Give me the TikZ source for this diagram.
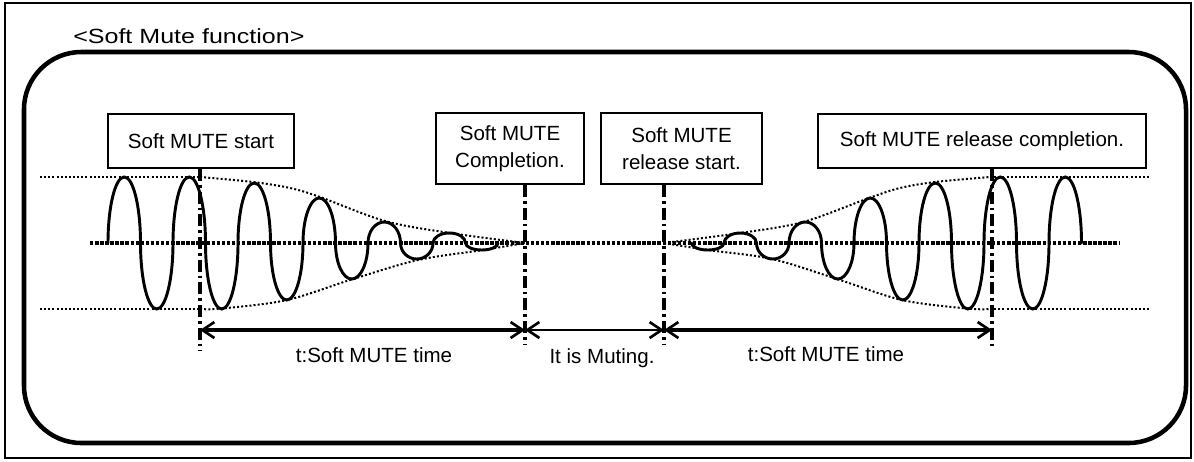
\documentclass[tikz,border=0pt]{standalone}
\usepackage{fontspec}
\setmainfont{Liberation Sans}
\usetikzlibrary{arrows.meta}
\begin{document}
\begin{tikzpicture}[x=0.75pt,y=-0.75pt,
  box/.style={draw,line width=1.5pt,inner sep=0pt,align=center,font=\fontsize{15.4pt}{20pt}\selectfont},
  lbl/.style={inner sep=0pt,font=\fontsize{15.4pt}{20pt}\selectfont},
  wave/.style={line width=2.2pt,line cap=round},
  env/.style={line width=1.5pt,dash pattern=on 1.5pt off 1.6pt},
  axisline/.style={line width=2.6pt,dash pattern=on 2.6pt off 1.2pt},
  marker/.style={line width=2.6pt,dash pattern=on 9pt off 3pt on 2pt off 3pt},
  barb/.tip={Straight Barb[length=9pt,width=12pt,line width=2pt]},
  dim/.style={line width=2.5pt,barb-barb},
  dimthin/.style={line width=1.1pt,barb-barb}]
\useasboundingbox (0,0) rectangle (1194,461);
% frames
\draw[line width=1pt] (5,3) rectangle (1191,458);
\draw[line width=3.4pt,rounded corners=43pt] (24,52) rectangle (1186,443);
% title
\node[anchor=base west,inner sep=0pt,font=\fontsize{15.4pt}{18pt}\selectfont] (title) at (73,43) {\scalebox{1.22}[1]{<Soft Mute function>}};
% boxes
\node[box,minimum width=139.5pt,minimum height=40.5pt] (b1) at (201,141) {Soft MUTE start};
\node[box,minimum width=111pt,minimum height=53.25pt] (b2) at (510,148.5) {Soft MUTE\\Completion.};
\node[box,minimum width=120.75pt,minimum height=53.25pt] (b3) at (681.5,148.5) {Soft MUTE\\release start.};
\node[box,minimum width=246pt,minimum height=40.5pt] (b4) at (982,141) {Soft MUTE release completion.};
% center axis
\coordinate (axL) at (90,243);
\coordinate (axR) at (1120,243);
\draw[axisline] (axL) -- (axR);
% envelopes
\draw[env] (40,177) -- (200,177);
\draw[env] plot[smooth,tension=0.55] coordinates {(200,177) (253,182) (290,188) (320,197) (385,221) (450,233) (525,243)};
\draw[env] (40,309) -- (200,309);
\draw[env] plot[smooth,tension=0.55] coordinates {(200,309) (222,308.5) (287,300) (353,279) (418,260) (483,250) (525,243)};
\draw[env] plot[smooth,tension=0.55] coordinates {(664,243) (740,233) (803,222) (869,198) (900,188) (935,182) (990,177)};
\draw[env] (990,177) -- (1150,177);
\draw[env] plot[smooth,tension=0.55] coordinates {(664,243) (708,250) (772,259) (837,279) (902,300) (967,308.5) (990,309)};
\draw[env] (990,309) -- (1150,309);
% waves (half-ellipse lobes)
\foreach \a [count=\k] in {66,-66,66,-66,60,-57,45,-36,21,-16,10,-7}{
  \pgfmathsetmacro\xa{108+32.5*(\k-1)}
  \pgfmathsetmacro\xm{\xa+16.25}
  \pgfmathsetmacro\xb{\xa+32.5}
  \pgfmathsetmacro\yk{243-0.5523*\a}
  \pgfmathsetmacro\yp{243-\a}
  \pgfmathsetmacro\xl{\xm-8.975}
  \pgfmathsetmacro\xr{\xm+8.975}
  \draw[wave] (\xa,243) .. controls (\xa,\yk) and (\xl,\yp) .. (\xm,\yp) .. controls (\xr,\yp) and (\xb,\yk) .. (\xb,243);
}
\foreach \a [count=\k] in {-7,10,-16,21,-36,45,-57,60,-66,66,-66,66}{
  \pgfmathsetmacro\xa{691.5+32.5*(\k-1)}
  \pgfmathsetmacro\xm{\xa+16.25}
  \pgfmathsetmacro\xb{\xa+32.5}
  \pgfmathsetmacro\yk{243-0.5523*\a}
  \pgfmathsetmacro\yp{243-\a}
  \pgfmathsetmacro\xl{\xm-8.975}
  \pgfmathsetmacro\xr{\xm+8.975}
  \draw[wave] (\xa,243) .. controls (\xa,\yk) and (\xl,\yp) .. (\xm,\yp) .. controls (\xr,\yp) and (\xb,\yk) .. (\xb,243);
}
% marker lines
\coordinate (m1) at (200,351);
\coordinate (m2) at (525,345);
\coordinate (m3) at (664,345);
\coordinate (m4) at (992,349);
\draw[marker] (b1.south -| m1) -- (m1);
\draw[marker] (b2.south -| m2) -- (m2);
\draw[marker] (b3.south -| m3) -- (m3);
\draw[marker] (b4.south -| m4) -- (m4);
% dimension arrows
\coordinate (d1) at (200,330);
\coordinate (d2) at (525,330);
\coordinate (d3) at (664,330);
\coordinate (d4) at (992,330);
\draw[dim] (d1) -- (d2);
\draw[dimthin] (d2) -- (d3);
\draw[dim] (d3) -- (d4);
% labels
\node[lbl,anchor=base] (t1) at (374,362) {t:Soft MUTE time};
\node[lbl,anchor=base] (t2) at (602,363) {It is Muting.};
\node[lbl,anchor=base] (t3) at (826,361) {t:Soft MUTE time};
\end{tikzpicture}
\end{document}
